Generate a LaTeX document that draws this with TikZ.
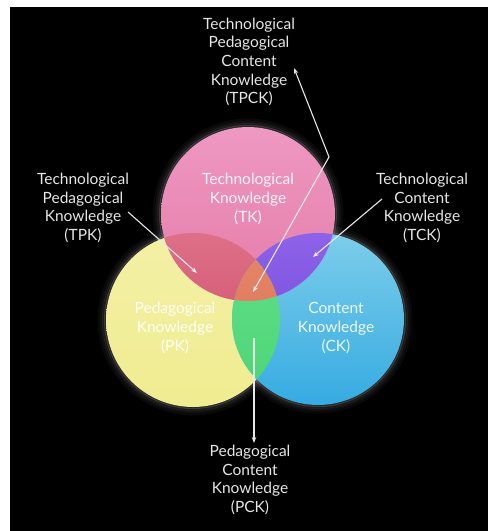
\documentclass[tikz,border=0pt]{standalone}
\usepackage{fontspec}
\setmainfont{Lato}
\usetikzlibrary{arrows.meta}
\definecolor{labelgray}{HTML}{E6E6E6}
\definecolor{arrowgray}{HTML}{E8E8E8}
\definecolor{pinkT}{HTML}{EE98C2}
\definecolor{pinkB}{HTML}{E47CA8}
\definecolor{yelT}{HTML}{F3F0A6}
\definecolor{yelB}{HTML}{F0EC90}
\definecolor{bluT}{HTML}{7CCDEA}
\definecolor{bluB}{HTML}{36ABE2}
\definecolor{redT}{HTML}{DD7088}
\definecolor{redB}{HTML}{CE4660}
\definecolor{purT}{HTML}{8E62E8}
\definecolor{purB}{HTML}{6B46DA}
\definecolor{grnT}{HTML}{62E08C}
\definecolor{grnB}{HTML}{4CD474}
\definecolor{orgT}{HTML}{E9967A}
\definecolor{orgB}{HTML}{E27E62}
\definecolor{glowcol}{HTML}{F4ECF0}
\begin{document}
\begin{tikzpicture}[x=1pt,y=-1pt,
  lbl/.style={align=center, text=labelgray, inner sep=0pt,
    font=\fontsize{15.5}{18.7}\selectfont},
  inlbl/.style={lbl, text=white, text opacity=0.9},
  arr/.style={draw=arrowgray, line width=1.1pt, -{Stealth[length=6pt,width=4.5pt]}},
  glowA/.style={draw=glowcol, draw opacity=0.04, line width=5pt},
  glowB/.style={draw=glowcol, draw opacity=0.08, line width=3pt},
  glowC/.style={draw=glowcol, draw opacity=0.16, line width=2pt}]
\useasboundingbox (0,0) rectangle (488,531);
\fill[white] (0,0) rectangle (488,531);
\fill[black] (10,7) rectangle (488,531);

\coordinate (cT) at (248,214);
\coordinate (cP) at (193,320);
\coordinate (cC) at (318,319);

% soft glow around the circles
\foreach \c/\r in {cT/87,cP/87,cC/86}{
  \draw[glowA] (\c) circle[radius=\r pt+6pt];
  \draw[glowA] (\c) circle[radius=\r pt+3.5pt];
  \draw[glowB] (\c) circle[radius=\r pt+2.5pt];
  \draw[glowC] (\c) circle[radius=\r pt+1pt];
}

% base circles
\shade[top color=yelT, bottom color=yelB] (cP) circle[radius=87pt];
\shade[top color=bluT, bottom color=bluB] (cC) circle[radius=86pt];
\shade[top color=pinkT, bottom color=pinkB] (cT) circle[radius=87pt];

% pairwise intersections
\begin{scope}
  \clip (cT) circle[radius=87pt];
  \shade[top color=redT, bottom color=redB] (cP) circle[radius=87pt];
\end{scope}
\begin{scope}
  \clip (cT) circle[radius=87pt];
  \shade[top color=purT, bottom color=purB] (cC) circle[radius=86pt];
\end{scope}
\begin{scope}
  \clip (cP) circle[radius=87pt];
  \shade[top color=grnT, bottom color=grnB] (cC) circle[radius=86pt];
\end{scope}
\begin{scope}
  \clip (cP) circle[radius=87pt];
  \clip (cC) circle[radius=86pt];
  \shade[top color=orgT, bottom color=orgB] (cT) circle[radius=87pt];
\end{scope}

% labels inside circles
\node[inlbl] (tk) at (248,199) {Technological\\Knowledge\\(TK)};
\node[inlbl] (pk) at (175,328) {Pedagogical\\Knowledge\\(PK)};
\node[inlbl] (ck) at (336,328) {Content\\Knowledge\\(CK)};

% outer labels
\node[lbl] (tpck) at (249,62) {Technological\\Pedagogical\\Content\\Knowledge\\(TPCK)};
\node[lbl] (tpk) at (83,208) {Technological\\Pedagogical\\Knowledge\\(TPK)};
\node[lbl] (tck) at (422,208) {Technological\\Content\\Knowledge\\(TCK)};
\node[lbl] (pck) at (250,480) {Pedagogical\\Content\\Knowledge\\(PCK)};

% arrow end points
\coordinate (tpckS) at (294,68);
\coordinate (tpckB) at (329,157);
\coordinate (tpckE) at (253,292);
\coordinate (tpkS) at (128,212);
\coordinate (tpkE) at (197,273);
\coordinate (tckS) at (382,199);
\coordinate (tckE) at (313,257);
\coordinate (pckS) at (254,338);
\coordinate (pckE) at (254,443);

\draw[arr, {Stealth[length=6pt,width=4.5pt]}-{Stealth[length=6pt,width=4.5pt]}] (tpckS) -- (tpckB) -- (tpckE);
\draw[arr] (tpkS) -- (tpkE);
\draw[arr] (tckS) -- (tckE);
\draw[arr] (pckS) -- (pckE);
\end{tikzpicture}
\end{document}
